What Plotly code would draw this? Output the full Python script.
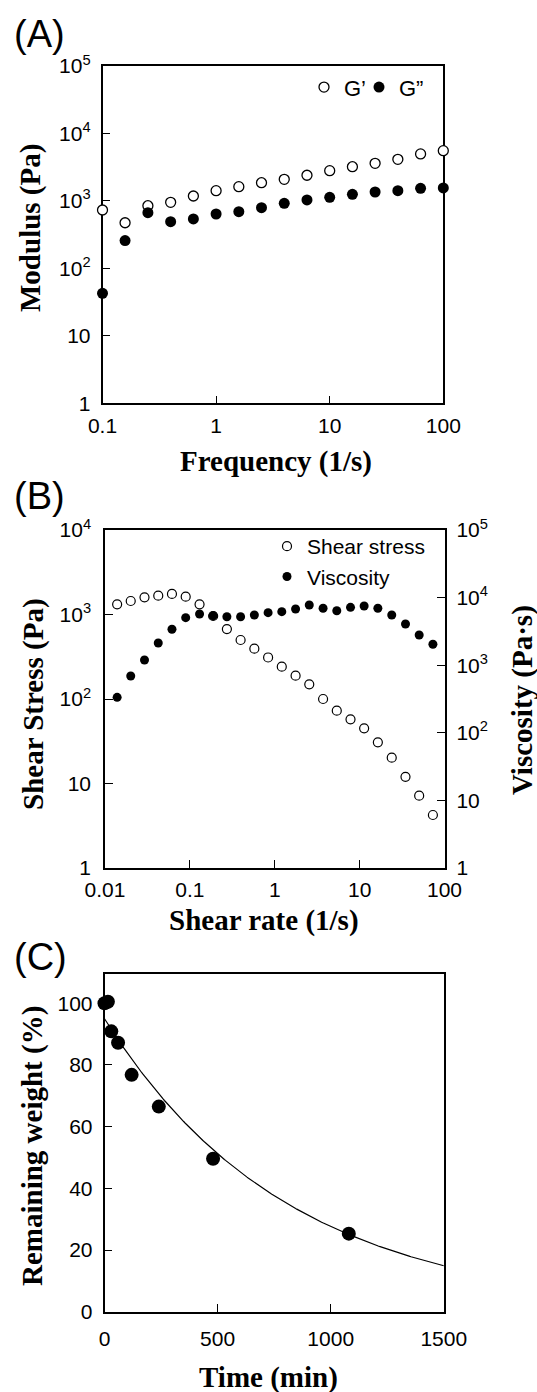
import numpy as np
import plotly.graph_objects as go

W, H = 537, 1392

# ---------------- Data ----------------
# (A) frequency sweep
freq = [0.1, 0.158, 0.251, 0.398, 0.631, 1.0, 1.585, 2.51, 3.98, 6.31,
        10.0, 15.85, 25.1, 39.8, 63.1, 100.0]
g_prime = [733, 475, 849, 953, 1183, 1420, 1627, 1862, 2089, 2400,
           2805, 3215, 3610, 4140, 4970, 5560]
g_double = [42.7, 258, 670, 492, 540, 640, 692, 794, 923, 1033,
            1132, 1254, 1356, 1418, 1538, 1556]

# (B) shear-rate sweep
shear_rate = [0.0139, 0.0201, 0.0292, 0.0424, 0.0615, 0.0893, 0.130, 0.188,
              0.273, 0.396, 0.575, 0.835, 1.21, 1.76, 2.55, 3.71, 5.38, 7.81,
              11.3, 16.4, 23.9, 34.7, 50.3, 73.0]
shear_stress = [1319, 1445, 1597, 1670, 1750, 1626, 1319, 960, 673, 499, 394,
                310, 241, 189, 149, 100, 72.8, 57.5, 45.0, 30.7, 20.2, 12.0,
                7.17, 4.24]
viscosity = [335, 692, 1194, 2128, 3398, 5050, 5717, 5395, 5215, 5215, 5536,
             5986, 6196, 6779, 7778, 6950, 6398, 7181, 7519, 6950, 5536, 4066,
             2796, 2038]

# (C) degradation
time_min = [0, 15, 30, 60, 120, 240, 480, 1080]
remaining = [100.0, 100.5, 90.9, 87.2, 76.8, 66.5, 49.6, 25.3]
fit_A, fit_k = 95.0, 0.001235     # exponential fit parameters
fit_t = np.linspace(0, 1500, 301)
fit_y = fit_A * np.exp(-fit_k * fit_t)

# tick labels
a_xvals = [0.1, 1, 10, 100]
a_xtext = ["0.1", "1", "10", "100"]
a_yvals = [1, 10, 100, 1000, 10000, 100000]
a_ytext = ["1", "10", "10<sup>2</sup>", "10<sup>3</sup>", "10<sup>4</sup>", "10<sup>5</sup>"]
b_xvals = [0.01, 0.1, 1, 10, 100]
b_xtext = ["0.01", "0.1", "1", "10", "100"]
b_yvals = [1, 10, 100, 1000, 10000]
b_ytext = ["1", "10", "10<sup>2</sup>", "10<sup>3</sup>", "10<sup>4</sup>"]
b_y2vals = [1, 10, 100, 1000, 10000, 100000]
b_y2text = ["1", "10", "10<sup>2</sup>", "10<sup>3</sup>", "10<sup>4</sup>", "10<sup>5</sup>"]
c_xvals = [0, 500, 1000, 1500]
c_yvals = [0, 20, 40, 60, 80, 100]

# ---------------- Helpers ----------------
def px(x):
    return x / W

def py(y):
    return 1 - y / H

SANS = "Liberation Sans, Arial, sans-serif"
SERIF = "Liberation Serif, Times New Roman, serif"
TICKFONT = dict(family=SANS, size=21, color="black")

def axis_style(**kw):
    d = dict(showline=True, linecolor="black", linewidth=1.5, ticks="inside",
             ticklen=8, tickwidth=1.2, tickcolor="black", showgrid=False,
             zeroline=False, tickfont=TICKFONT, layer="below traces")
    d.update(kw)
    return d

fig = go.Figure()

# ---------------- Panel A ----------------
fig.add_trace(go.Scatter(x=freq, y=g_prime, mode="markers", name="G’",
                         marker=dict(symbol="circle", size=10, color="white",
                                     line=dict(color="black", width=1.3)),
                         xaxis="x", yaxis="y", cliponaxis=False, legend="legend"))
fig.add_trace(go.Scatter(x=freq, y=g_double, mode="markers", name="G”",
                         marker=dict(symbol="circle", size=11, color="black",
                                     line=dict(color="black", width=0)),
                         xaxis="x", yaxis="y", cliponaxis=False, legend="legend3"))

# ---------------- Panel B ----------------
fig.add_trace(go.Scatter(x=shear_rate, y=shear_stress, mode="markers", name="Shear stress",
                         marker=dict(symbol="circle", size=9, color="white",
                                     line=dict(color="black", width=1.2)),
                         xaxis="x2", yaxis="y2", cliponaxis=False, legend="legend2"))
fig.add_trace(go.Scatter(x=shear_rate, y=viscosity, mode="markers", name="Viscosity",
                         marker=dict(symbol="circle", size=9, color="black",
                                     line=dict(color="black", width=0)),
                         xaxis="x2", yaxis="y3", cliponaxis=False, legend="legend2"))

# ---------------- Panel C ----------------
fig.add_trace(go.Scatter(x=fit_t, y=fit_y, mode="lines", line=dict(color="black", width=1.2),
                         xaxis="x3", yaxis="y4", showlegend=False, cliponaxis=False))
fig.add_trace(go.Scatter(x=time_min, y=remaining, mode="markers",
                         marker=dict(symbol="circle", size=14, color="black"),
                         xaxis="x3", yaxis="y4", showlegend=False, cliponaxis=False))

LEGFONT_A = dict(family=SANS, size=22, color="black")

fig.update_layout(
    width=W, height=H, autosize=False,
    margin=dict(l=0, r=0, t=0, b=0, autoexpand=False),
    paper_bgcolor="white", plot_bgcolor="white",
    font=dict(family=SANS, color="black"),
    # A
    xaxis=axis_style(type="log", range=[-1, 2], domain=[px(102.5), px(443.3)],
                     anchor="y", mirror=True, tickvals=a_xvals, ticktext=a_xtext,
                     ticklabelstandoff=3),
    yaxis=axis_style(type="log", range=[0, 5], domain=[py(403.3), py(66)],
                     anchor="x", mirror=True, tickvals=a_yvals, ticktext=a_ytext,
                     ticklabelstandoff=6),
    # B
    xaxis2=axis_style(type="log", range=[-2, 2], domain=[px(105), px(444.5)],
                      anchor="y2", mirror=True, tickvals=b_xvals, ticktext=b_xtext,
                      ticklabelstandoff=2),
    yaxis2=axis_style(type="log", range=[0, 4], domain=[py(868), py(530)],
                      anchor="x2", tickvals=b_yvals, ticktext=b_ytext,
                      ticklabelstandoff=8),
    yaxis3=axis_style(type="log", range=[0, 5], overlaying="y2", side="right",
                      anchor="x2", tickvals=b_y2vals, ticktext=b_y2text,
                      ticklabelstandoff=6),
    # C
    xaxis3=axis_style(range=[0, 1500], domain=[px(104.5), px(443.8)],
                      anchor="y4", mirror=True, tickvals=c_xvals,
                      ticklabelstandoff=7),
    yaxis4=axis_style(range=[0, 109.5], domain=[py(1311.7), py(974)],
                      anchor="x3", mirror=True, tickvals=c_yvals,
                      ticklabelstandoff=6),
    legend=dict(orientation="h", x=px(304), y=py(87.3), xanchor="left", yanchor="middle",
                font=LEGFONT_A, bgcolor="rgba(0,0,0,0)", itemwidth=30),
    legend3=dict(orientation="h", x=px(359), y=py(87.3), xanchor="left", yanchor="middle",
                 font=LEGFONT_A, bgcolor="rgba(0,0,0,0)", itemwidth=30),
    legend2=dict(orientation="v", x=px(267), y=py(526), xanchor="left", yanchor="top",
                 font=dict(family=SANS, size=21, color="black"), bgcolor="rgba(0,0,0,0)",
                 itemwidth=30, tracegroupgap=0),
)

ann = []
def label(text, x, y, size, family=SANS, angle=0, xanchor="center", bold=False):
    t = f"<b>{text}</b>" if bold else text
    ann.append(dict(text=t, x=px(x), y=py(y), xref="paper", yref="paper",
                    xanchor=xanchor, yanchor="middle", showarrow=False,
                    textangle=angle, font=dict(family=family, size=size, color="black")))

# panel letters
label("(A)", 12, 34, 38, xanchor="left")
label("(B)", 12, 496, 38, xanchor="left")
label("(C)", 12, 957, 38, xanchor="left")
# axis titles
label("Modulus (Pa)", 31, 228, 29, SERIF, -90, bold=True)
label("Frequency (1/s)", 276, 462, 29, SERIF, bold=True)
label("Shear Stress (Pa)", 33, 704, 29, SERIF, -90, bold=True)
label("Viscosity (Pa·s)", 522, 700, 29, SERIF, -90, bold=True)
label("Shear rate (1/s)", 264, 920, 29, SERIF, bold=True)
label("Remaining weight (%)", 32, 1146, 29, SERIF, -90, bold=True)
label("Time (min)", 268, 1377, 29, SERIF, bold=True)
fig.update_layout(annotations=ann)

# remove the browser's default 8px body margin so the figure sits at the page origin
fig.write_html("out.html", config={"displayModeBar": False},
               post_script="document.body.style.margin='0';document.body.style.overflow='hidden';")
